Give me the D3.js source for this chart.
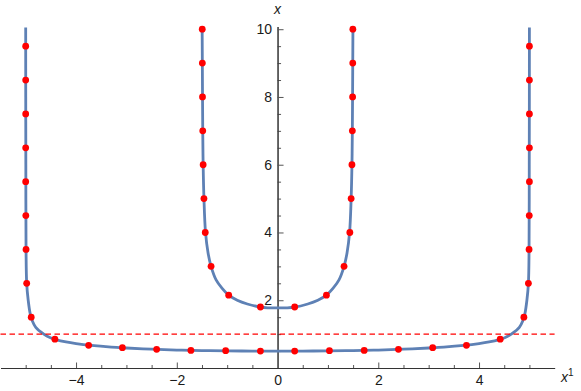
<!DOCTYPE html>
<html>
<head>
<meta charset="utf-8">
<script src="https://cdn.jsdelivr.net/npm/d3@7"></script>
<style>
  html, body { margin: 0; padding: 0; background: #fff; }
  svg { display: block; }
  text { font-family: "Liberation Sans", Arial, sans-serif; }
</style>
</head>
<body>
<div id="chart"></div>
<script>
// ---- data ----
const xTickLabels = [-4, -2, 0, 2, 4];
const yTickLabels = [2, 4, 6, 8, 10];
const thresholdY = 1;

const outerCurveX = [-5.0, -4.999, -4.997, -4.993, -4.98, -4.95, -4.91, -4.87, -4.80, -4.64, -4.52, -4.40, -4.2, -4.0, -3.7, -3.3, -3.0, -2.5, -2.0, -1.5, -1.0, -0.5, 0,
                      0.5, 1.0, 1.5, 2.0, 2.5, 3.0, 3.3, 3.7, 4.0, 4.2, 4.40, 4.52, 4.64, 4.80, 4.87, 4.91, 4.95, 4.98, 4.993, 4.997, 4.999, 5.0];
const outerCurveY = [10.05, 8, 6, 3.5, 2.5, 2.0, 1.6, 1.4, 1.2, 1.0, 0.9, 0.84, 0.77, 0.72, 0.665, 0.615, 0.59, 0.555, 0.53, 0.515, 0.505, 0.5, 0.5,
                      0.5, 0.505, 0.515, 0.53, 0.555, 0.59, 0.615, 0.665, 0.72, 0.77, 0.84, 0.9, 1.0, 1.2, 1.4, 1.6, 2.0, 2.5, 3.5, 6, 8, 10.05];

const innerCurveX = [-1.497, -1.493, -1.485, -1.477, -1.461, -1.43, -1.38, -1.32, -1.22, -1.1, -0.97, -0.8, -0.6, -0.34, 0,
                      0.34, 0.6, 0.8, 0.97, 1.1, 1.22, 1.32, 1.38, 1.43, 1.461, 1.477, 1.485, 1.493, 1.497];
const innerCurveY = [10.05, 9, 7, 6, 5, 4, 3.4, 3.0, 2.6, 2.35, 2.15, 2.0, 1.89, 1.80, 1.775,
                      1.80, 1.89, 2.0, 2.15, 2.35, 2.6, 3.0, 3.4, 4, 5, 6, 7, 9, 10.05];

const outerDotX = [-5.0, -5.0, -5.0, -5.0, -5.0, -4.997, -4.993, -4.98, -4.89,
                   -4.42, -3.75, -3.08, -2.40, -1.72, -1.03, -0.34,
                   0.34, 1.03, 1.72, 2.40, 3.08, 3.75, 4.42,
                   4.89, 4.98, 4.993, 4.997, 5.0, 5.0, 5.0, 5.0, 5.0];
const outerDotY = [9.5, 8.5, 7.5, 6.5, 5.5, 4.5, 3.5, 2.5, 1.5,
                   0.85, 0.67, 0.6, 0.55, 0.52, 0.51, 0.5,
                   0.5, 0.51, 0.52, 0.55, 0.6, 0.67, 0.85,
                   1.5, 2.5, 3.5, 4.5, 5.5, 6.5, 7.5, 8.5, 9.5];

const innerDotX = [-1.495, -1.493, -1.49, -1.485, -1.477, -1.461, -1.435, -1.32, -0.97, -0.34,
                   0.34, 0.97, 1.32, 1.435, 1.461, 1.477, 1.485, 1.49, 1.493, 1.495];
const innerDotY = [10, 9, 8, 7, 6, 5, 4, 3, 2.15, 1.80,
                   1.80, 2.15, 3, 4, 5, 6, 7, 8, 9, 10];

// ---- layout ----
const W = 581, H = 391;
const svg = d3.select("#chart").append("svg").attr("width", W).attr("height", H);

const x = d3.scaleLinear().domain([-5.5, 5.5]).range([0.5, 554.6]);
const y = d3.scaleLinear().domain([0, 10.08]).range([368, 26.5]);

const axisColor = "#333";
const tickColor = "#555";
const FONT = '"Liberation Sans", Arial, sans-serif';

// minor ticks
const xMinor = d3.range(-5, 5.01, 0.5).filter(v => !xTickLabels.includes(v));
const yMinor = d3.range(0.5, 10, 0.5).filter(v => !yTickLabels.includes(v));

const gx = svg.append("g").attr("transform", `translate(0,${y(0)})`);
gx.call(d3.axisBottom(x).tickValues(xMinor).tickSizeInner(-3).tickSizeOuter(0).tickFormat(""));
gx.append("g").call(d3.axisBottom(x).tickValues(xTickLabels).tickSizeInner(-5.5).tickSizeOuter(0).tickPadding(7.5));
gx.selectAll(".domain").attr("stroke", axisColor);
gx.selectAll(".tick line").attr("stroke", tickColor);
gx.selectAll("text").attr("font-size", 14).attr("fill", "#1a1a1a").attr("font-family", FONT);
gx.selectAll(".tick").filter(d => d === 0).select("line").remove();

const gy = svg.append("g").attr("transform", `translate(${x(0)},0)`);
gy.call(d3.axisLeft(y).tickValues(yMinor).tickSizeInner(-3.5).tickSizeOuter(0).tickFormat(""));
gy.append("g").call(d3.axisLeft(y).tickValues(yTickLabels).tickSizeInner(-6).tickSizeOuter(0).tickPadding(5.5));
gy.selectAll(".domain").attr("stroke", axisColor);
gy.selectAll(".tick line").attr("stroke", tickColor);
gy.selectAll("text").attr("font-size", 14).attr("fill", "#1a1a1a").attr("font-family", FONT);

// axis labels
svg.append("text").attr("x", x(0)).attr("y", 14).attr("text-anchor", "middle")
  .attr("font-size", 14).attr("font-style", "italic").attr("fill", "#1a1a1a").text("x");
const xl = svg.append("text").attr("x", 561).attr("y", 382)
  .attr("font-size", 14).attr("font-style", "italic").attr("fill", "#1a1a1a");
xl.append("tspan").text("x");
xl.append("tspan").attr("dy", -6).attr("font-size", 10).attr("font-style", "normal").text("1");

// curves
const line = d3.line().x(d => x(d[0])).y(d => y(d[1])).curve(d3.curveCatmullRom.alpha(0.5));
const outer = outerCurveX.map((v, i) => [v, outerCurveY[i]]);
const inner = innerCurveX.map((v, i) => [v, innerCurveY[i]]);
[outer, inner].forEach(c => {
  svg.append("path").datum(c).attr("d", line)
    .attr("fill", "none").attr("stroke", "#5E81B5").attr("stroke-width", 2.8)
    .attr("stroke-linejoin", "round");
});

// dashed threshold line
svg.append("line")
  .attr("x1", x(-5.5)).attr("x2", x(5.5))
  .attr("y1", y(thresholdY)).attr("y2", y(thresholdY))
  .attr("stroke", "#FF0000").attr("stroke-width", 1.1).attr("stroke-dasharray", "5.5,3.5");

// dots
const dots = outerDotX.map((v, i) => [v, outerDotY[i]])
  .concat(innerDotX.map((v, i) => [v, innerDotY[i]]));
svg.append("g").selectAll("circle").data(dots).join("circle")
  .attr("cx", d => x(d[0])).attr("cy", d => y(d[1])).attr("r", 3.4)
  .attr("fill", "#FF0000");
</script>
</body>
</html>
